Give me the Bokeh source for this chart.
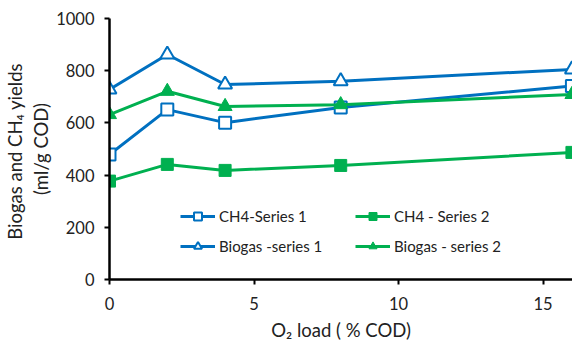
from bokeh.plotting import figure
from bokeh.models import Range1d, Legend, LegendItem, FixedTicker
from bokeh.embed import file_html
from bokeh.resources import INLINE

# data
o2_load = [0, 2, 4, 8, 16]
ch4_series1 = [479, 651, 601, 659, 741]
ch4_series2 = [377, 441, 418, 437, 487]
biogas_series1 = [728, 862, 747, 760, 805]
biogas_series2 = [632, 721, 663, 670, 709]
x_ticks = [0, 5, 10, 15]
y_ticks = [0, 200, 400, 600, 800, 1000]

BLUE = "#0070C0"
GREEN = "#00B050"
FONT = "Lato"
TXT = "#222222"

p = figure(width=572, height=343, output_backend="svg", toolbar_location=None,
           x_range=Range1d(0, 16.02), y_range=Range1d(0, 1000),
           min_border_left=99, min_border_right=0, min_border_top=18, min_border_bottom=64)
p.outline_line_color = None
p.xgrid.visible = False
p.ygrid.visible = False
p.background_fill_color = "white"

r1_l = p.line(o2_load, ch4_series1, color=BLUE, line_width=3)
r1_m = p.scatter(o2_load, ch4_series1, marker="square", size=12, line_color=BLUE,
                 fill_color="white", line_width=2)
r2_l = p.line(o2_load, ch4_series2, color=GREEN, line_width=3)
r2_m = p.scatter(o2_load, ch4_series2, marker="square", size=12, line_color=GREEN,
                 fill_color=GREEN, line_width=1)
r3_l = p.line(o2_load, biogas_series1, color=BLUE, line_width=3)
r3_m = p.scatter(o2_load, biogas_series1, marker="triangle", size=14, line_color=BLUE,
                 fill_color="white", line_width=2)
r4_l = p.line(o2_load, biogas_series2, color=GREEN, line_width=3)
r4_m = p.scatter(o2_load, biogas_series2, marker="triangle", size=14, line_color=GREEN,
                 fill_color=GREEN, line_width=1)

for ax in (p.xaxis[0], p.yaxis[0]):
    ax.axis_line_width = 2.5
    ax.axis_line_color = "black"
    ax.major_tick_line_color = "black"
    ax.major_tick_line_width = 2
    ax.major_tick_out = 5
    ax.major_tick_in = 0
    ax.minor_tick_line_color = None
    ax.major_label_text_font = FONT
    ax.major_label_text_font_size = "16.5px"
    ax.major_label_text_color = TXT
    ax.axis_label_text_font = FONT
    ax.axis_label_text_font_size = "18.5px"
    ax.axis_label_text_font_style = "normal"
    ax.axis_label_text_color = TXT

p.xaxis.ticker = FixedTicker(ticks=x_ticks)
p.yaxis.ticker = FixedTicker(ticks=y_ticks)
p.xaxis.major_label_standoff = 12
p.yaxis.major_label_standoff = 10
p.xaxis.axis_label = "O\u2082 load ( % COD)"
p.xaxis.axis_label_standoff = 6
p.yaxis.axis_label = "Biogas  and CH\u2084 yields\n(ml/g COD)"
p.yaxis.axis_label_standoff = 1
p.yaxis.axis_label_text_line_height = 1.2

legend = Legend(items=[
    LegendItem(label="CH4-Series 1", renderers=[r1_l, r1_m]),
    LegendItem(label="Biogas -series 1", renderers=[r3_l, r3_m]),
    LegendItem(label="CH4 - Series 2", renderers=[r2_l, r2_m]),
    LegendItem(label="Biogas - series 2", renderers=[r4_l, r4_m]),
], ncols=2, location=(71, 23))
legend.border_line_color = None
legend.background_fill_alpha = 0
legend.padding = 0
legend.margin = 0
legend.spacing = 10
legend.glyph_width = 35
legend.glyph_height = 20
legend.label_height = 20
legend.label_width = 126
legend.label_standoff = 4
legend.label_text_font = FONT
legend.label_text_font_size = "15px"
legend.label_text_color = TXT
p.add_layout(legend, "center")

open("out.html", "w").write(file_html(p, INLINE))
